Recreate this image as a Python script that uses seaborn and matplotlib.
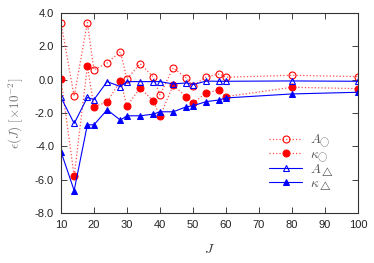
import numpy as np
import pandas as pd
import matplotlib
matplotlib.use("Agg")
import matplotlib.pyplot as plt
import seaborn as sns

J = [10, 14, 18, 20, 24, 28, 30, 34, 38, 40, 44, 48, 50, 54, 58, 60, 80, 100]
A_circ = [3.42, -1.0, 3.42, 0.58, 1.0, 1.67, 0.04, 0.95, 0.16, -0.92, 0.70, 0.10, -0.38, 0.16, 0.34, 0.14, 0.26, 0.18]
k_circ = [0.06, -5.80, 0.80, -1.63, -1.34, -0.08, -1.58, -0.50, -1.28, -2.21, -0.34, -1.02, -1.43, -0.79, -0.62, -1.02, -0.46, -0.54]
A_tri = [-1.07, -2.63, -1.07, -1.20, -0.12, -0.42, -0.12, -0.12, -0.12, -0.12, -0.26, -0.20, -0.30, -0.09, -0.10, -0.10, -0.08, -0.10]
k_tri = [-4.32, -6.65, -2.71, -2.71, -1.81, -2.43, -2.17, -2.17, -2.07, -1.93, -1.93, -1.63, -1.57, -1.32, -1.22, -1.10, -0.86, -0.76]

labels = [r"$A_{\bigcirc}$", r"$\kappa_{\bigcirc}$", r"$A_{\triangle}$", r"$\kappa_{\triangle}$"]
xticks = [10, 20, 30, 40, 50, 60, 70, 80, 90, 100]
yticks = [-8, -6, -4, -2, 0, 2, 4]

sns.set_style("ticks")
plt.rcParams["font.family"] = ["Liberation Sans", "DejaVu Sans"]
plt.rcParams["mathtext.fontset"] = "cm"

fig = plt.figure(figsize=(3.74, 2.63), dpi=100)
ax = fig.add_axes([0.163, 0.19, 0.794, 0.761])

df = pd.DataFrame({"J": J, "Ac": A_circ, "kc": k_circ, "At": A_tri, "kt": k_tri})

red = "#ff0000"
blue = "#0000ff"
sns.lineplot(data=df, x="J", y="Ac", ax=ax, color="#ff5050", linestyle=":", linewidth=0.9,
             marker="o", markersize=5, markerfacecolor="none", markeredgecolor=red,
             markeredgewidth=0.8, label=labels[0])
sns.lineplot(data=df, x="J", y="kc", ax=ax, color="#ff5050", linestyle=":", linewidth=0.9,
             marker="o", markersize=5, markerfacecolor=red, markeredgecolor=red,
             label=labels[1])
sns.lineplot(data=df, x="J", y="At", ax=ax, color=blue, linestyle="-", linewidth=0.8,
             marker="^", markersize=5, markerfacecolor="none", markeredgecolor=blue,
             markeredgewidth=0.8, label=labels[2])
sns.lineplot(data=df, x="J", y="kt", ax=ax, color=blue, linestyle="-", linewidth=0.8,
             marker="^", markersize=4.5, markerfacecolor=blue, markeredgecolor=blue,
             label=labels[3])

ax.set_xlim(10, 100)
ax.set_ylim(-8, 4)
ax.set_xticks(xticks)
ax.set_yticks(yticks)
ax.set_yticklabels([f"{v:.1f}" for v in yticks])
ax.tick_params(direction="in", top=True, right=True, labelsize=8, length=4,
               width=0.6, colors="#222222", pad=5)
for s in ax.spines.values():
    s.set_linewidth(0.8)
    s.set_color("#333333")

ax.set_xlabel(r"$J$", fontsize=10, color="#333333", labelpad=9)
ax.set_ylabel(r"$\epsilon(J)\ [\times 10^{-2}]$", fontsize=9.5, color="#777777", labelpad=7)

leg = ax.legend(loc="lower right", bbox_to_anchor=(0.95, 0.06), frameon=False,
                fontsize=9.5, handlelength=2.5, labelspacing=-0.08, handletextpad=0.6,
                borderpad=0.2)
for t in leg.get_texts():
    t.set_color("#555555")

fig.savefig("out.png", dpi=100)
